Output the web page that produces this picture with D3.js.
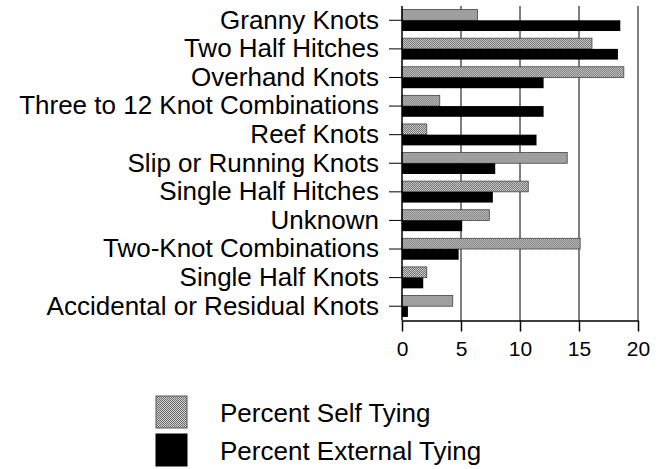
<!DOCTYPE html>
<html><head><meta charset="utf-8">
<script src="https://cdn.jsdelivr.net/npm/d3@7"></script>
<style>body{margin:0;background:#fff}svg{display:block}text{font-family:"Liberation Sans",Arial,sans-serif;fill:#000}</style>
</head><body><svg id="c" width="664" height="469"></svg>
<script>
const categories = ["Granny Knots","Two Half Hitches","Overhand Knots","Three to 12 Knot Combinations","Reef Knots","Slip or Running Knots","Single Half Hitches","Unknown","Two-Knot Combinations","Single Half Knots","Accidental or Residual Knots"];
const selfTying = [6.4,16.1,18.8,3.2,2.1,14.0,10.7,7.4,15.1,2.1,4.3];
const externalTying = [18.5,18.3,12.0,12.0,11.4,7.9,7.7,5.1,4.8,1.8,0.5];
const seriesNames = ["Percent Self Tying","Percent External Tying"];
const xTicks = [0,5,10,15,20];

(function(){
const svg = d3.select("#c");
const defs = svg.append("defs");
const pat = defs.append("pattern").attr("id","dither").attr("patternUnits","userSpaceOnUse").attr("width",2).attr("height",2);
pat.append("rect").attr("width",2).attr("height",2).attr("fill","#d8d8d8");
pat.append("rect").attr("width",1).attr("height",1).attr("fill","#666");
pat.append("rect").attr("x",1).attr("y",1).attr("width",1).attr("height",1).attr("fill","#666");

const mLeft = 402, mRight = 638, mTop = 6, mBottom = 320.5;
const x = d3.scaleLinear().domain([0,20]).range([mLeft,mRight]);
const y = d3.scaleBand().domain(categories).range([mTop,mBottom]).paddingInner(0.25).paddingOuter(0.125);
const sub = d3.scaleBand().domain(seriesNames).range([0,y.bandwidth()]);

svg.append("g").selectAll("line").data(xTicks.slice(1)).join("line")
  .attr("x1",d=>x(d)).attr("x2",d=>x(d)).attr("y1",mTop).attr("y2",mBottom)
  .attr("stroke","#000").attr("stroke-width",1);

const rows = svg.append("g").selectAll("g").data(categories).join("g")
  .attr("transform",d=>`translate(0,${y(d)})`);
rows.append("rect").attr("x",x(0)).attr("y",sub(seriesNames[0]))
  .attr("width",(d,i)=>x(selfTying[i])-x(0)).attr("height",sub.bandwidth())
  .attr("fill","url(#dither)").attr("stroke","#444").attr("stroke-width",0.8);
rows.append("rect").attr("x",x(0)).attr("y",sub(seriesNames[1]))
  .attr("width",(d,i)=>x(externalTying[i])-x(0)).attr("height",sub.bandwidth())
  .attr("fill","#000");

const ya = svg.append("g").attr("transform",`translate(${mLeft},0)`)
  .call(d3.axisLeft(y).tickSize(13).tickPadding(10));
ya.select(".domain").remove();
ya.append("line").attr("x1",0).attr("x2",0).attr("y1",mTop).attr("y2",mBottom).attr("stroke","#000").attr("stroke-width",1.5);
ya.selectAll(".tick line").attr("stroke","#000").attr("stroke-width",1);
ya.selectAll(".tick text").attr("font-size",26).attr("font-family","Liberation Sans, Arial, sans-serif").attr("fill","#000");

const xa = svg.append("g").attr("transform",`translate(0,${mBottom})`)
  .call(d3.axisBottom(x).tickValues(xTicks).tickSize(11).tickPadding(10).tickSizeOuter(0));
xa.select(".domain").attr("stroke","#000").attr("stroke-width",1.5);
xa.selectAll(".tick line").attr("stroke","#000").attr("stroke-width",1.5);
xa.selectAll(".tick text").attr("font-size",21).attr("font-family","Liberation Sans, Arial, sans-serif").attr("fill","#000");

const lg = svg.append("g");
const fills = ["url(#dither)","#000"];
seriesNames.forEach((s,i)=>{
  const yy = 396 + i*38;
  lg.append("rect").attr("x",156).attr("y",yy).attr("width",31).attr("height",32)
    .attr("fill",fills[i]).attr("stroke",i===0?"#555":"#000").attr("stroke-width",1);
  lg.append("text").attr("x",220).attr("y",yy+26).attr("font-size",26).text(s);
});
})();
</script></body></html>
